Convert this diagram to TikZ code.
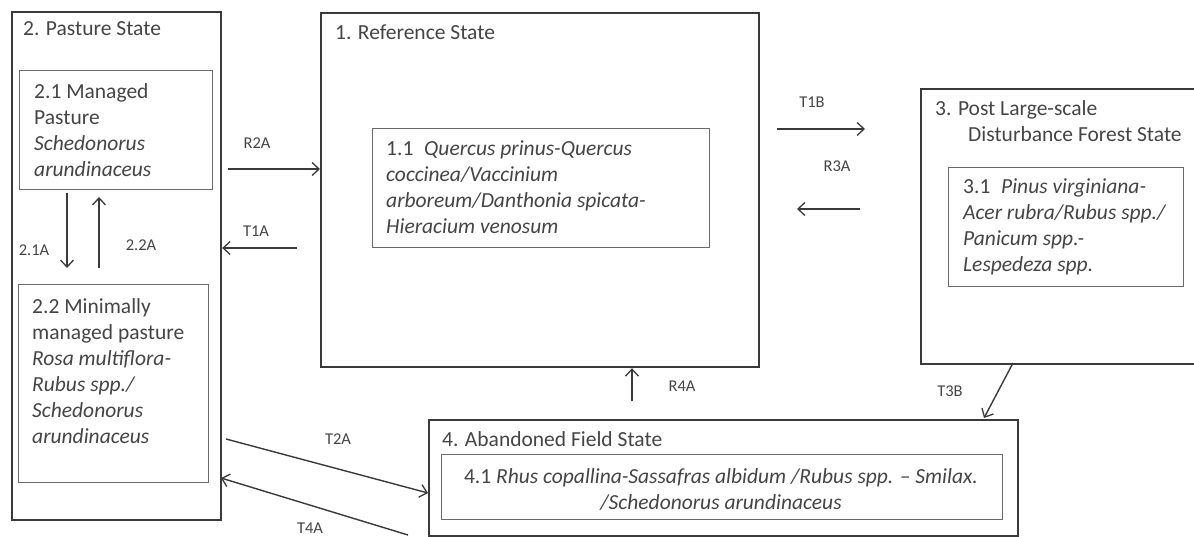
\documentclass[tikz,border=0pt]{standalone}
\usepackage{fontspec}
\setmainfont{Carlito}
\usetikzlibrary{arrows.meta}
\definecolor{lineC}{HTML}{3A3A3A}
\definecolor{innerC}{HTML}{6A6A6A}
\definecolor{txtC}{HTML}{454545}
\tikzset{
  outerbox/.style={draw=lineC, line width=2.2pt, inner sep=0pt, anchor=north west},
  innerbox/.style={draw=innerC, line width=1.4pt, inner sep=0pt, anchor=north west},
  body/.style={text=txtC, font=\fontsize{21.5}{26}\selectfont, inner sep=0pt, align=left},
  lab/.style={text=txtC, font=\fontsize{16.5}{18}\selectfont, inner sep=0pt},
  arr/.style={draw=lineC, line width=1.4pt, -{Straight Barb[length=7pt,width=13pt,line width=1.3pt]}}
}
\begin{document}
\begin{tikzpicture}[x=1pt,y=-1pt]
\useasboundingbox (0,0) rectangle (1194,537);
\clip (0,0) rectangle (1194,537);
\fill[white] (0,0) rectangle (1194,537);
% boxes
\node[outerbox, minimum width=209pt, minimum height=508pt] (s2) at (11,11) {};
\node[innerbox, minimum width=193pt, minimum height=119pt] (s21) at (19,70) {};
\node[innerbox, minimum width=190pt, minimum height=198pt] (s22) at (18,284) {};
\node[outerbox, minimum width=438pt, minimum height=354pt] (s1) at (320,12) {};
\node[innerbox, minimum width=337pt, minimum height=119pt] (s11) at (372,128) {};
\node[outerbox, minimum width=290pt, minimum height=275pt] (s3) at (920,88) {};
\node[innerbox, minimum width=235pt, minimum height=119pt] (s31) at (948,167) {};
\node[outerbox, minimum width=589pt, minimum height=116pt] (s4) at (428,419) {};
\node[innerbox, minimum width=561pt, minimum height=65pt] (s41) at (441,454) {};
% texts
\node[body, anchor=north west] (t2) at (23,21) {2. Pasture State};
\node[body, anchor=north west] (t21) at (34,83) {2.1 Managed\\Pasture\\\textit{Schedonorus}\\\textit{arundinaceus}};
\node[body, anchor=north west] (t22) at (32,298) {2.2 Minimally\\managed pasture\\\textit{Rosa multiflora-}\\\textit{Rubus spp./}\\\textit{Schedonorus}\\\textit{arundinaceus}};
\node[body, anchor=north west] (t1) at (335,25) {1. Reference State};
\node[body, anchor=north west] (t11) at (386,141) {1.1\enspace\textit{Quercus prinus-Quercus}\\\textit{coccinea/Vaccinium}\\\textit{arboreum/Danthonia spicata-}\\\textit{Hieracium venosum}};
\node[body, anchor=north west] (t3) at (935,100) {3. Post Large-scale\\\hspace*{33pt}Disturbance Forest State};
\node[body, anchor=north west] (t31) at (963,179) {3.1\enspace\textit{Pinus virginiana-}\\\textit{Acer rubra/Rubus spp./}\\\textit{Panicum spp.-}\\\textit{Lespedeza spp.}};
\node[body, anchor=north west] (t4) at (442,431) {4. Abandoned Field State};
\node[body, anchor=north, align=center] (t41) at (721,468) {4.1 \textit{Rhus copallina-Sassafras albidum /Rubus spp. – Smilax.}\\\textit{/Schedonorus arundinaceus}};
% arrows
\coordinate (a21s) at (67,193); \coordinate (a21e) at (67,268);
\draw[arr] (a21s) -- (a21e);
\coordinate (a22s) at (99,268); \coordinate (a22e) at (99,197);
\draw[arr] (a22s) -- (a22e);
\coordinate (r2s) at (228,169);
\draw[arr] (r2s) -- (s1.west |- r2s);
\coordinate (t1s) at (297,248);
\draw[arr] (t1s) -- (s2.east |- t1s);
\coordinate (t1bs) at (777,129); \coordinate (t1be) at (865,129);
\draw[arr] (t1bs) -- (t1be);
\coordinate (r3s) at (860,209); \coordinate (r3e) at (797,209);
\draw[arr] (r3s) -- (r3e);
\coordinate (r4s) at (632,401);
\draw[arr] (r4s) -- (s1.south -| r4s);
\coordinate (t3s) at (1013,363); \coordinate (t3e) at (984,418);
\draw[arr] (t3s) -- (t3e);
\coordinate (t2s) at (226,439); \coordinate (t2e) at (428,493);
\draw[arr] (t2s) -- (t2e);
\coordinate (t4s) at (408,535); \coordinate (t4e) at (221,478);
\draw[arr] (t4s) -- (t4e);
% labels
\node[lab] (l21) at (34,250) {2.1A};
\node[lab] (l22) at (141,245) {2.2A};
\node[lab] (lr2) at (257,143) {R2A};
\node[lab] (lt1) at (256,231) {T1A};
\node[lab] (lt1b) at (812,102) {T1B};
\node[lab] (lr3) at (837,166) {R3A};
\node[lab] (lr4) at (682,386) {R4A};
\node[lab] (lt3) at (950,391) {T3B};
\node[lab] (lt2) at (338,439) {T2A};
\node[lab] (lt4) at (310,528) {T4A};
\end{tikzpicture}
\end{document}
